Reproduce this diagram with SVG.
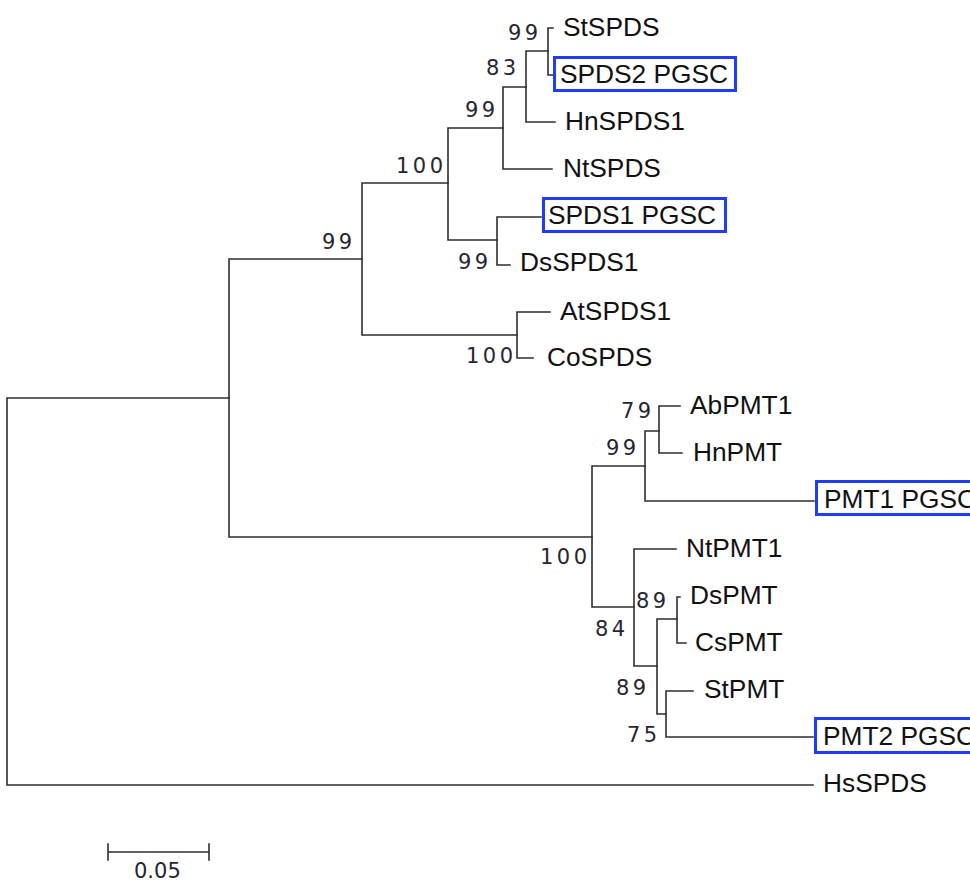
<svg xmlns="http://www.w3.org/2000/svg" width="970" height="882" viewBox="0 0 970 882">
<style>
.br{fill:none;stroke:#2e2e2e;stroke-width:1.6;stroke-linecap:square}
.lf{font-family:"Liberation Sans",Arial,sans-serif;font-size:26.3px;fill:#111}
.bs{font-family:"DejaVu Sans",sans-serif;font-size:21px;letter-spacing:3.5px;fill:#262630}
.bx{fill:#fff;stroke:#1f3df5;stroke-width:3}
.sc{font-family:"DejaVu Sans",sans-serif;font-size:21px;fill:#262630}
</style>
<rect width="970" height="882" fill="#fff"/>
<g id="connectors" class="br">
<path d="M7,398V785H813M7,398H229"/>
<path d="M229,259V537M229,259H362M229,537H592"/>
<path d="M362,183V335M362,183H448M362,335H517"/>
<path d="M448,128V240M448,128H503M448,240H497"/>
<path d="M503,87V169M503,87H526M503,169H552"/>
<path d="M526,51V122M526,51H548M526,122H555"/>
<path d="M548,28V75M548,28H553M548,75H553"/>
<path d="M497,217V265M497,217H541M497,265H510"/>
<path d="M517,312V358M517,312H550M517,358H533"/>
<path d="M592,466V607M592,466H645M592,607H634"/>
<path d="M645,431V501M645,431H659M645,501H814"/>
<path d="M659,406V453M659,406H680M659,453H682"/>
<path d="M634,549V666M634,549H676M634,666H657"/>
<path d="M657,619V714M657,619H677M657,714H666"/>
<path d="M677,597V643M677,597H680M677,643H686"/>
<path d="M666,691V737M666,691H693M666,737H813"/>
</g>
<g id="leaf-StSPDS"><text class="lf" x="563" y="36">StSPDS</text></g>
<g id="leaf-SPDS2_PGSC"><rect class="bx" x="554.5" y="57.5" width="181" height="33"/><text class="lf" x="560" y="83">SPDS2 PGSC</text></g>
<g id="leaf-HnSPDS1"><text class="lf" x="565" y="130">HnSPDS1</text></g>
<g id="leaf-NtSPDS"><text class="lf" x="563" y="177">NtSPDS</text></g>
<g id="leaf-SPDS1_PGSC"><rect class="bx" x="543.5" y="198.5" width="182" height="33"/><text class="lf" x="548" y="224">SPDS1 PGSC</text></g>
<g id="leaf-DsSPDS1"><text class="lf" x="520" y="271">DsSPDS1</text></g>
<g id="leaf-AtSPDS1"><text class="lf" x="560" y="320">AtSPDS1</text></g>
<g id="leaf-CoSPDS"><text class="lf" x="547" y="366">CoSPDS</text></g>
<g id="leaf-AbPMT1"><text class="lf" x="690" y="414">AbPMT1</text></g>
<g id="leaf-HnPMT"><text class="lf" x="693" y="461">HnPMT</text></g>
<g id="leaf-PMT1_PGSC"><rect class="bx" x="816.5" y="481.5" width="200" height="33"/><text class="lf" x="824" y="508">PMT1 PGSC</text></g>
<g id="leaf-NtPMT1"><text class="lf" x="686" y="557">NtPMT1</text></g>
<g id="leaf-DsPMT"><text class="lf" x="690" y="604">DsPMT</text></g>
<g id="leaf-CsPMT"><text class="lf" x="695" y="651">CsPMT</text></g>
<g id="leaf-StPMT"><text class="lf" x="704" y="698">StPMT</text></g>
<g id="leaf-PMT2_PGSC"><rect class="bx" x="815.5" y="718.5" width="200" height="34"/><text class="lf" x="823" y="745">PMT2 PGSC</text></g>
<g id="leaf-HsSPDS"><text class="lf" x="823" y="792">HsSPDS</text></g>
<g id="node-F"><text class="bs" x="508" y="40">99</text></g>
<g id="node-E"><text class="bs" x="486" y="75">83</text></g>
<g id="node-D"><text class="bs" x="465" y="117">99</text></g>
<g id="node-C"><text class="bs" x="396" y="173">100</text></g>
<g id="node-G"><text class="bs" x="458" y="269">99</text></g>
<g id="node-H"><text class="bs" x="466" y="363">100</text></g>
<g id="node-B"><text class="bs" x="322" y="249">99</text></g>
<g id="node-K"><text class="bs" x="621" y="418">79</text></g>
<g id="node-J"><text class="bs" x="606" y="455">99</text></g>
<g id="node-I"><text class="bs" x="540" y="564">100</text></g>
<g id="node-N"><text class="bs" x="636" y="608">89</text></g>
<g id="node-L"><text class="bs" x="595" y="636">84</text></g>
<g id="node-M"><text class="bs" x="616" y="695">89</text></g>
<g id="node-O"><text class="bs" x="627" y="742">75</text></g>
<g id="scale-bar">
<path class="br" d="M108,852H209M108,844V860M209,844V860"/>
<text class="sc" x="134" y="878">0.05</text>
</g>
</svg>
